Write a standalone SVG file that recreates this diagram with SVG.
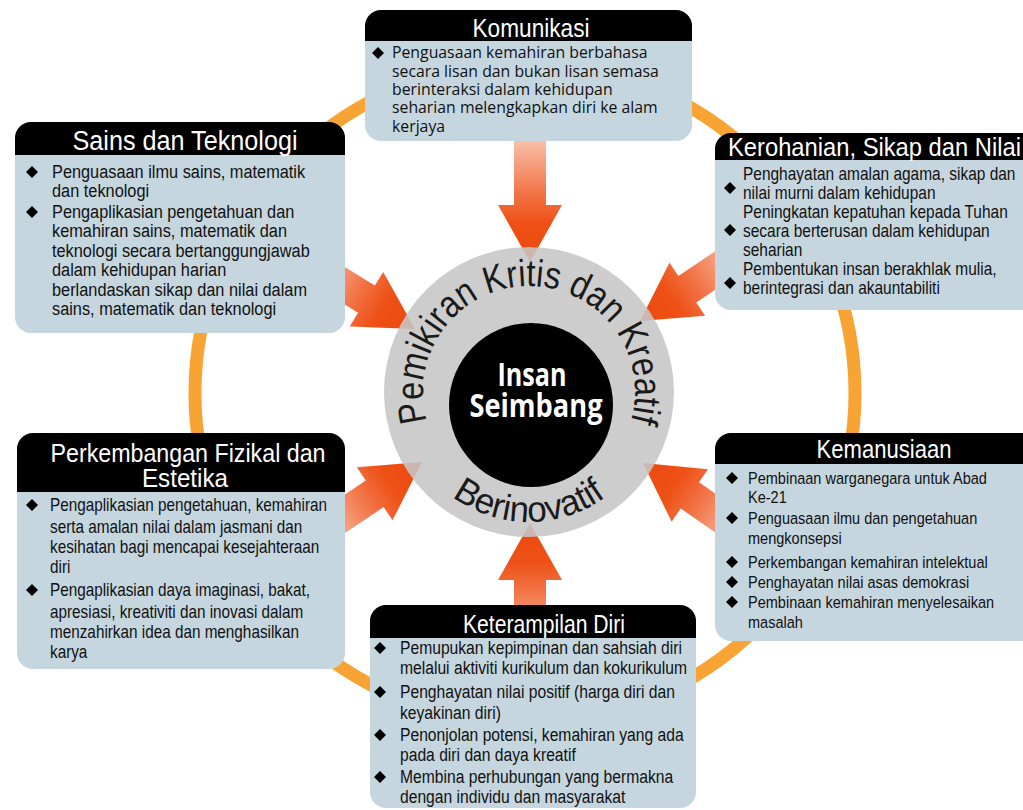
<svg xmlns="http://www.w3.org/2000/svg" width="1023" height="810" viewBox="0 0 1023 810">
<defs>
<style>
.body{fill:#c5d6df}
.hdr{fill:#000}
.ttl{font-family:"Liberation Sans",Arial,sans-serif;fill:#fff;text-anchor:middle}
.txt{font-family:"Liberation Sans",Arial,sans-serif;fill:#111}
.kom{font-family:"Open Sans","Liberation Sans",sans-serif;font-size:15.8px;fill:#111}
.ring{font-family:"Liberation Sans",Arial,sans-serif;fill:#1a1a1a}
</style>
<linearGradient id="ag" x1="0" y1="0" x2="1" y2="0">
<stop offset="0" stop-color="#fbd6c8"/>
<stop offset="0.5" stop-color="#f27446"/>
<stop offset="0.72" stop-color="#ee5016"/>
<stop offset="1" stop-color="#ec4a0e"/>
</linearGradient>
<path id="arr" d="M-137,-16 L-57,-16 L-57,-32 L0,0 L-57,32 L-57,16 L-137,16 Z" fill="url(#ag)"/>
<path id="b" d="M0,-6 L6,0 L0,6 L-6,0 Z" fill="#000"/>
<path id="topArc" d="M426.6,419.4 A106,106 0 1 1 631.4,419.4"/>
<path id="botArc" d="M399,392 A130,130 0 0 0 659,392"/>
</defs>
<rect width="1023" height="810" fill="#fff"/>

<g id="ring-cycle">
<circle cx="525" cy="393" r="330" fill="none" stroke="#f8a435" stroke-width="13"/>
</g>

<g id="connectors">
<use href="#arr" transform="translate(530,262) rotate(90)"/>
<use href="#arr" transform="translate(415,329) rotate(31.6)"/>
<use href="#arr" transform="translate(640,321) rotate(146.1)"/>
<use href="#arr" transform="translate(422,462) rotate(-33.9)"/>
<use href="#arr" transform="translate(643,463) rotate(-145.3)"/>
<use href="#arr" transform="translate(530,523) rotate(-90)"/>
</g>

<g id="centre">
<circle cx="529" cy="392" r="145" fill="#c6c6c6" opacity="0.88"/>
<circle cx="531" cy="405" r="82" fill="#000"/>
<text class="ring" font-size="38"><textPath href="#topArc" startOffset="50%" text-anchor="middle" textLength="392" lengthAdjust="spacingAndGlyphs">Pemikiran Kritis dan Kreatif</textPath></text>
<text class="ring" font-size="36"><textPath href="#botArc" startOffset="50%" text-anchor="middle" textLength="165" lengthAdjust="spacingAndGlyphs">Berinovatif</textPath></text>
<text x="532" y="386" font-family="'Open Sans','Liberation Sans',sans-serif" font-weight="bold" font-size="32" fill="#fff" text-anchor="middle" textLength="69" lengthAdjust="spacingAndGlyphs">Insan</text>
<text x="536" y="417" font-family="'Open Sans','Liberation Sans',sans-serif" font-weight="bold" font-size="32" fill="#fff" text-anchor="middle" textLength="133" lengthAdjust="spacingAndGlyphs">Seimbang</text>
</g>

<g id="komunikasi">
<rect class="body" x="365" y="10" width="327" height="131" rx="16"/>
<path class="hdr" d="M365,41 V26 A16,16 0 0 1 381,10 H676 A16,16 0 0 1 692,26 V41 Z"/>
<text class="ttl" x="531" y="37" font-size="25" textLength="117" lengthAdjust="spacingAndGlyphs">Komunikasi</text>
<use href="#b" x="378" y="53"/>
<text class="kom"><tspan x="392" y="58">Penguasaan kemahiran berbahasa</tspan><tspan x="392" y="77">secara lisan dan bukan lisan semasa</tspan><tspan x="392" y="95">berinteraksi dalam kehidupan</tspan><tspan x="392" y="113">seharian melengkapkan diri ke alam</tspan><tspan x="392" y="132">kerjaya</tspan></text>
</g>

<g id="sains">
<rect class="body" x="15" y="122" width="330" height="211" rx="16"/>
<path class="hdr" d="M15,155 V138 A16,16 0 0 1 31,122 H329 A16,16 0 0 1 345,138 V155 Z"/>
<text class="ttl" x="185" y="150" font-size="27" textLength="225" lengthAdjust="spacingAndGlyphs">Sains dan Teknologi</text>
<use href="#b" x="32" y="172"/>
<use href="#b" x="32" y="212"/>
<g transform="translate(52,0) scale(0.86,1)">
<text class="txt" font-size="19"><tspan x="0" y="178">Penguasaan ilmu sains, matematik</tspan><tspan x="0" y="197">dan teknologi</tspan><tspan x="0" y="218">Pengaplikasian pengetahuan dan</tspan><tspan x="0" y="237">kemahiran sains, matematik dan</tspan><tspan x="0" y="257">teknologi secara bertanggungjawab</tspan><tspan x="0" y="276">dalam kehidupan harian</tspan><tspan x="0" y="296">berlandaskan sikap dan nilai dalam</tspan><tspan x="0" y="315">sains, matematik dan teknologi</tspan></text>
</g>
</g>

<g id="kerohanian">
<rect class="body" x="715" y="133" width="330" height="177" rx="16"/>
<path class="hdr" d="M715,160 V149 A16,16 0 0 1 731,133 H1029 A16,16 0 0 1 1045,149 V160 Z"/>
<text class="ttl" x="728" y="156" font-size="26" style="text-anchor:start" textLength="293" lengthAdjust="spacingAndGlyphs">Kerohanian, Sikap dan Nilai</text>
<use href="#b" x="730" y="188"/>
<use href="#b" x="730" y="230"/>
<use href="#b" x="730" y="283"/>
<g transform="translate(743,0) scale(0.86,1)">
<text class="txt" font-size="18"><tspan x="0" y="180">Penghayatan amalan agama, sikap dan</tspan><tspan x="0" y="199">nilai murni dalam kehidupan</tspan><tspan x="0" y="218">Peningkatan kepatuhan kepada Tuhan</tspan><tspan x="0" y="237">secara berterusan dalam kehidupan</tspan><tspan x="0" y="256">seharian</tspan><tspan x="0" y="275">Pembentukan insan berakhlak mulia,</tspan><tspan x="0" y="294">berintegrasi dan akauntabiliti</tspan></text>
</g>
</g>

<g id="fizikal">
<rect class="body" x="17" y="433" width="328" height="236" rx="16"/>
<path class="hdr" d="M17,492 V449 A16,16 0 0 1 33,433 H329 A16,16 0 0 1 345,449 V492 Z"/>
<text class="ttl" x="188" y="462" font-size="26" textLength="275" lengthAdjust="spacingAndGlyphs">Perkembangan Fizikal dan</text>
<text class="ttl" x="185" y="487" font-size="26" textLength="86" lengthAdjust="spacingAndGlyphs">Estetika</text>
<use href="#b" x="32" y="505"/>
<use href="#b" x="32" y="590"/>
<g transform="translate(50,0) scale(0.85,1)">
<text class="txt" font-size="18"><tspan x="0" y="511">Pengaplikasian pengetahuan, kemahiran</tspan><tspan x="0" y="533">serta amalan nilai dalam jasmani dan</tspan><tspan x="0" y="553">kesihatan bagi mencapai kesejahteraan</tspan><tspan x="0" y="573">diri</tspan><tspan x="0" y="596">Pengaplikasian daya imaginasi, bakat,</tspan><tspan x="0" y="618">apresiasi, kreativiti dan inovasi dalam</tspan><tspan x="0" y="638">menzahirkan idea dan menghasilkan</tspan><tspan x="0" y="658">karya</tspan></text>
</g>
</g>

<g id="kemanusiaan">
<rect class="body" x="715" y="433" width="330" height="208" rx="16"/>
<path class="hdr" d="M715,464 V449 A16,16 0 0 1 731,433 H1029 A16,16 0 0 1 1045,449 V464 Z"/>
<text class="ttl" x="884" y="458" font-size="26" textLength="135" lengthAdjust="spacingAndGlyphs">Kemanusiaan</text>
<use href="#b" x="732" y="478"/>
<use href="#b" x="732" y="518"/>
<use href="#b" x="732" y="562"/>
<use href="#b" x="732" y="582"/>
<use href="#b" x="732" y="602"/>
<g transform="translate(748,0) scale(0.855,1)">
<text class="txt" font-size="17"><tspan x="0" y="484">Pembinaan warganegara untuk Abad</tspan><tspan x="0" y="503">Ke-21</tspan><tspan x="0" y="524">Penguasaan ilmu dan pengetahuan</tspan><tspan x="0" y="544">mengkonsepsi</tspan><tspan x="0" y="568">Perkembangan kemahiran intelektual</tspan><tspan x="0" y="588">Penghayatan nilai asas demokrasi</tspan><tspan x="0" y="608">Pembinaan kemahiran menyelesaikan</tspan><tspan x="0" y="628">masalah</tspan></text>
</g>
</g>

<g id="keterampilan">
<rect class="body" x="370" y="605" width="326" height="203" rx="16"/>
<path class="hdr" d="M370,638 V621 A16,16 0 0 1 386,605 H680 A16,16 0 0 1 696,621 V638 Z"/>
<text class="ttl" x="544" y="633" font-size="26" textLength="162" lengthAdjust="spacingAndGlyphs">Keterampilan Diri</text>
<use href="#b" x="380" y="648"/>
<use href="#b" x="380" y="692"/>
<use href="#b" x="380" y="735"/>
<use href="#b" x="380" y="777"/>
<g transform="translate(400,0) scale(0.87,1)">
<text class="txt" font-size="18"><tspan x="0" y="654">Pemupukan kepimpinan dan sahsiah diri</tspan><tspan x="0" y="674">melalui aktiviti kurikulum dan kokurikulum</tspan><tspan x="0" y="698">Penghayatan nilai positif (harga diri dan</tspan><tspan x="0" y="719">keyakinan diri)</tspan><tspan x="0" y="741">Penonjolan potensi, kemahiran yang ada</tspan><tspan x="0" y="761">pada diri dan daya kreatif</tspan><tspan x="0" y="783">Membina perhubungan yang bermakna</tspan><tspan x="0" y="803">dengan individu dan masyarakat</tspan></text>
</g>
</g>
</svg>
